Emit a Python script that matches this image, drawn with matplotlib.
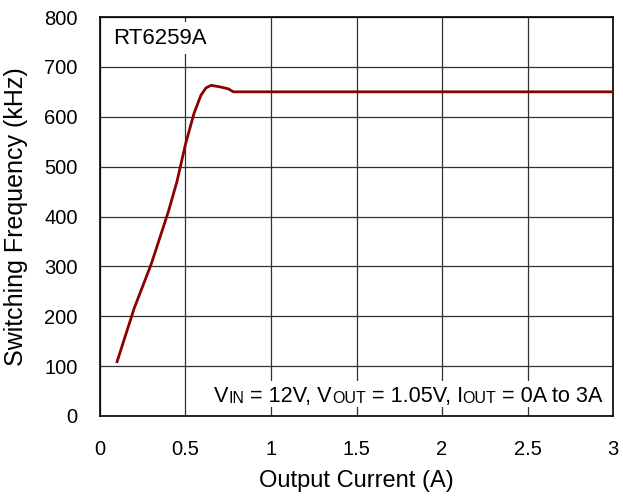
import matplotlib
matplotlib.use("Agg")
import matplotlib.pyplot as plt
from matplotlib.patches import Rectangle

plt.rcParams['font.family'] = ['Liberation Sans', 'DejaVu Sans']

# measured curve (output current A, switching freq kHz)
current = [0.10, 0.20, 0.30, 0.40, 0.45, 0.50, 0.55, 0.59, 0.62, 0.65, 0.70, 0.75, 0.78, 0.80, 1.0, 1.5, 2.0, 2.5, 3.0]
freq = [109, 216, 305, 410, 470, 545, 607, 643, 658, 663, 660, 656, 650, 650, 650, 650, 650, 650, 650]

xticks = [0, 0.5, 1, 1.5, 2, 2.5, 3]
xlabels = ['0', '0.5', '1', '1.5', '2', '2.5', '3']
yticks = [0, 100, 200, 300, 400, 500, 600, 700, 800]

fig = plt.figure(figsize=(6.23, 4.96), dpi=100)
ax = fig.add_axes([0.1605, 0.1613, 0.8235, 0.8044])

ax.plot(current, freq, color='#8B0000', lw=2, zorder=3)

ax.set_xlim(0, 3)
ax.set_ylim(0, 800)
ax.set_xticks(xticks)
ax.set_xticklabels(xlabels)
ax.set_yticks(yticks)
ax.grid(True, color='#303030', lw=0.9)
for s in ax.spines.values():
    s.set_color('black')
    s.set_linewidth(1.2)
ax.tick_params(labelsize=14.5, length=0)
ax.tick_params(axis='x', pad=17)
ax.tick_params(axis='y', pad=16)
ax.set_xlabel('Output Current (A)', fontsize=17, labelpad=8)
ax.set_ylabel('Switching Frequency (kHz)', fontsize=18, labelpad=12)

ax.text(0.025, 0.947, 'RT6259A', transform=ax.transAxes, fontsize=16,
        va='center', ha='left',
        bbox=dict(facecolor='white', edgecolor='none', pad=4))

# condition note with small subscripts, built left to right
pieces = [('V', 15.6), ('IN', 11.5), (' = 12V, V', 15.6), ('OUT', 11.5),
          (' = 1.05V, I', 15.6), ('OUT', 11.5), (' = 0A to 3A', 15.6)]
fig.canvas.draw()
r = fig.canvas.get_renderer()
x_px = ax.transAxes.transform((0.98, 0))[0]
y_px = ax.transAxes.transform((0, 0.035))[1]
widths = []
for txt, fs in pieces:
    t = fig.text(0, 0, txt, fontsize=fs)
    widths.append(t.get_window_extent(r).width)
    t.remove()
total = sum(widths)
cur = x_px - total
fw, fh = fig.bbox.width, fig.bbox.height
fig.patches.append(Rectangle(((cur - 4) / fw, (y_px - 5) / fh), (total + 8) / fw, 26 / fh,
                             transform=fig.transFigure, facecolor='white', edgecolor='none', zorder=4))
for (txt, fs), w in zip(pieces, widths):
    dy = -1 if fs < 12 else 0
    fig.text(cur / fw, (y_px + dy) / fh, txt, fontsize=fs, ha='left', va='baseline', zorder=5)
    cur += w

fig.savefig('out.png', dpi=100)
